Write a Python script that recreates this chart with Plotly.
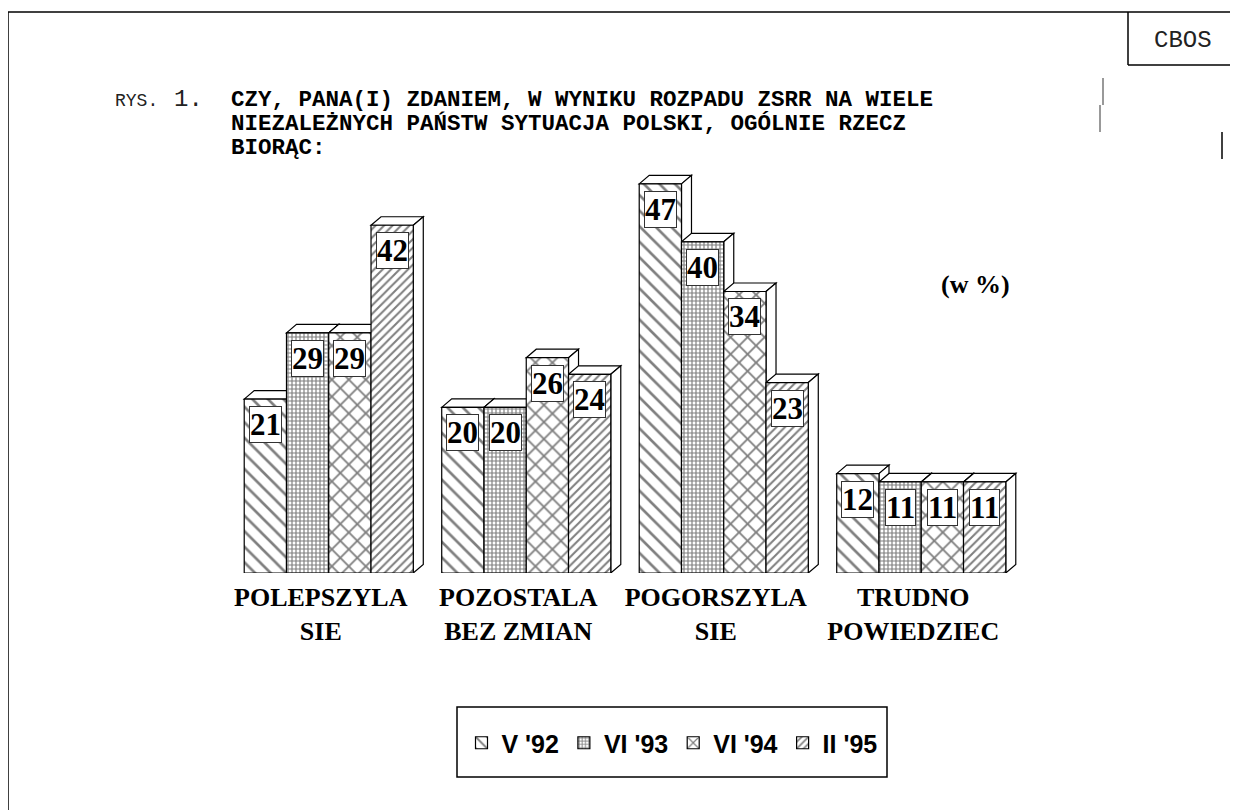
import plotly.graph_objects as go

# ---------------- data ----------------
categories = ["POLEPSZYLA<br>SIE", "POZOSTALA<br>BEZ ZMIAN", "POGORSZYLA<br>SIE", "TRUDNO<br>POWIEDZIEC"]
series_names = ["V '92", "VI '93", "VI '94", "II '95"]
v_92 = [21, 20, 47, 12]
vi_93 = [29, 20, 40, 11]
vi_94 = [29, 26, 34, 11]
ii_95 = [42, 24, 23, 11]
series_values = [v_92, vi_93, vi_94, ii_95]
patterns = ["\\", "+", "x", "/"]
pattern_sizes = [11, 4, 12, 6]
pattern_solid = [0.24, 0.5, 0.28, 0.34]

# ---------------- layout geometry ----------------
OFF = 8                      # default page body margin
W, H = 1238 - OFF, 810 - OFF
L, T = 230 - OFF, 159 - OFF
PW, PH = 790, 414
R, B = W - L - PW, H - T - PH
YMAX = 50
XMIN, XMAX = -0.5, 3.5

def PX(px):   # page pixel x -> paper
    return (px - OFF - L) / PW

def PY(py):   # page pixel y -> paper
    return 1 - (py - OFF - T) / PH

bargap = 0.144
group_w = 1 - bargap
bar_w = group_w / 4
DX = 10 / (PW / (XMAX - XMIN))   # depth, x in data units
DY = 8.5 / (PH / YMAX)           # depth, y in data units

x_idx = list(range(len(categories)))

fig = go.Figure()
shapes = []
annotations = []

for i, (name, vals) in enumerate(zip(series_names, series_values)):
    off = -group_w / 2 + i * bar_w
    fig.add_trace(go.Bar(
        x=x_idx, y=vals, name=name,
        width=bar_w, offset=off,
        marker=dict(color="white",
                    line=dict(color="black", width=1.2),
                    pattern=dict(shape=patterns[i], fgcolor="black", bgcolor="white",
                                 size=pattern_sizes[i], solidity=pattern_solid[i])),
        hoverinfo="skip",
    ))

# 3D faces (drawn left to right inside each group)
for g in x_idx:
    for i, vals in enumerate(series_values):
        v = vals[g]
        x0 = g - group_w / 2 + i * bar_w
        x1 = x0 + bar_w
        top = f"M {x0},{v} L {x0+DX},{v+DY} L {x1+DX},{v+DY} L {x1},{v} Z"
        side = f"M {x1},{v} L {x1+DX},{v+DY} L {x1+DX},{DY} L {x1},0 Z"
        for p in (top, side):
            shapes.append(dict(type="path", path=p, xref="x", yref="y",
                               fillcolor="white", line=dict(color="black", width=1.2),
                               layer="below"))
        annotations.append(dict(
            x=(x0 + x1) / 2, y=v, xref="x", yref="y", yanchor="top", yshift=-7,
            text=f"<b>{v}</b>", showarrow=False,
            font=dict(family="Liberation Serif", size=31, color="black"),
            bgcolor="white", bordercolor="#333", borderwidth=1, borderpad=0))

# Title
annotations += [
    dict(x=PX(113), y=PY(101), xref="paper", yref="paper", xanchor="left", yanchor="middle",
         text="RYS.", showarrow=False, font=dict(family="Liberation Mono", size=18, color="#222")),
    dict(x=PX(172), y=PY(99), xref="paper", yref="paper", xanchor="left", yanchor="middle",
         text="1.", showarrow=False, font=dict(family="Liberation Mono", size=24, color="#222")),
    dict(x=PX(229), y=PY(100), xref="paper", yref="paper", xanchor="left", yanchor="middle",
         text="<b>CZY, PANA(I) ZDANIEM, W WYNIKU ROZPADU ZSRR NA WIELE</b>", showarrow=False,
         font=dict(family="Liberation Mono", size=22.5, color="black")),
    dict(x=PX(229), y=PY(124), xref="paper", yref="paper", xanchor="left", yanchor="middle",
         text="<b>NIEZALEŻNYCH PAŃSTW SYTUACJA POLSKI, OGÓLNIE RZECZ</b>", showarrow=False,
         font=dict(family="Liberation Mono", size=22.5, color="black")),
    dict(x=PX(229), y=PY(148), xref="paper", yref="paper", xanchor="left", yanchor="middle",
         text="<b>BIORĄC:</b>", showarrow=False,
         font=dict(family="Liberation Mono", size=22.5, color="black")),
    dict(x=PX(1183), y=PY(40), xref="paper", yref="paper", xanchor="center", yanchor="middle",
         text="CBOS", showarrow=False, font=dict(family="Liberation Mono", size=24, color="#222")),
    dict(x=PX(975), y=PY(284), xref="paper", yref="paper", xanchor="center", yanchor="middle",
         text="<b>(w %)</b>", showarrow=False, font=dict(family="Liberation Serif", size=26, color="black")),
]

# Decorative frame lines
def line(x0, y0, x1, y1, color="black", width=1.5):
    shapes.append(dict(type="line", xref="paper", yref="paper",
                       x0=PX(x0), y0=PY(y0), x1=PX(x1), y1=PY(y1),
                       line=dict(color=color, width=width), layer="above"))

line(8, 12, 1240, 12)
line(8, 12, 8, 812)
line(1128, 12, 1128, 65)
line(1128, 65, 1240, 65)
line(1103, 78, 1103, 105, color="#777")
line(1100, 105, 1100, 132, color="#777")
line(1222, 132, 1222, 159)
# legend box
shapes.append(dict(type="rect", xref="paper", yref="paper",
                   x0=PX(457), y0=PY(707), x1=PX(887), y1=PY(777),
                   line=dict(color="black", width=1.5), fillcolor="rgba(0,0,0,0)", layer="above"))

fig.update_layout(
    width=W, height=H,
    margin=dict(l=L, r=R, t=T, b=B),
    paper_bgcolor="white", plot_bgcolor="white",
    barmode="group", bargap=bargap,
    showlegend=True,
    legend=dict(orientation="h", x=PX(672), y=PY(743), xanchor="center", yanchor="middle",
                font=dict(family="Liberation Sans", size=25, color="black", weight="bold"),
                bgcolor="rgba(0,0,0,0)", borderwidth=0, itemclick=False, itemdoubleclick=False,
                itemwidth=30),
    xaxis=dict(range=[XMIN, XMAX], tickvals=x_idx, ticktext=categories,
               showgrid=False, zeroline=False, showline=False, ticks="",
               tickfont=dict(family="Liberation Serif", size=26, color="black", weight="bold"),
               ticklabelshift=-8, ticklabelstandoff=6, fixedrange=True),
    yaxis=dict(range=[0, YMAX], visible=False, fixedrange=True),
    shapes=shapes,
    annotations=annotations,
)

fig.write_html("out.html")
